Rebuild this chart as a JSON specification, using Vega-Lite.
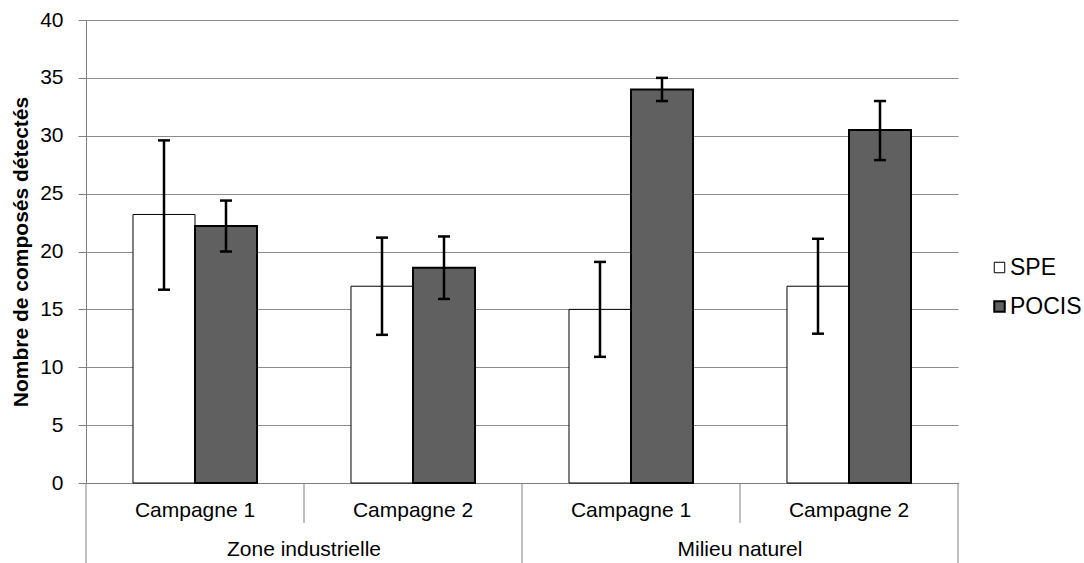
{
  "$schema": "https://vega.github.io/schema/vega-lite/v6.json",
  "width": 872,
  "height": 463,
  "autosize": {"type": "none"},
  "padding": {"left": 86, "top": 20, "right": 126, "bottom": 80},
  "background": "white",
  "config": {
    "view": {"stroke": null},
    "font": "Liberation Sans",
    "axis": {"labelFont": "Liberation Sans", "titleFont": "Liberation Sans", "labelColor": "#000000", "titleColor": "#000000"},
    "legend": {"labelFont": "Liberation Sans"}
  },
  "datasets": {
    "bars": [
      {"region": "Zone industrielle", "cat": "Zone industrielle|Campagne 1", "serie": "SPE", "value": 23.2, "lo": 16.7, "hi": 29.6},
      {"region": "Zone industrielle", "cat": "Zone industrielle|Campagne 1", "serie": "POCIS", "value": 22.2, "lo": 20.0, "hi": 24.4},
      {"region": "Zone industrielle", "cat": "Zone industrielle|Campagne 2", "serie": "SPE", "value": 17.0, "lo": 12.8, "hi": 21.2},
      {"region": "Zone industrielle", "cat": "Zone industrielle|Campagne 2", "serie": "POCIS", "value": 18.6, "lo": 15.9, "hi": 21.3},
      {"region": "Milieu naturel", "cat": "Milieu naturel|Campagne 1", "serie": "SPE", "value": 15.0, "lo": 10.9, "hi": 19.1},
      {"region": "Milieu naturel", "cat": "Milieu naturel|Campagne 1", "serie": "POCIS", "value": 34.0, "lo": 33.0, "hi": 35.0},
      {"region": "Milieu naturel", "cat": "Milieu naturel|Campagne 2", "serie": "SPE", "value": 17.0, "lo": 12.9, "hi": 21.1},
      {"region": "Milieu naturel", "cat": "Milieu naturel|Campagne 2", "serie": "POCIS", "value": 30.5, "lo": 27.9, "hi": 33.0}
    ],
    "regions": [
      {"cat": "Zone industrielle|Campagne 1", "region": "Zone industrielle"},
      {"cat": "Milieu naturel|Campagne 1", "region": "Milieu naturel"}
    ],
    "camp2": [
      {"cat": "Zone industrielle|Campagne 2"},
      {"cat": "Milieu naturel|Campagne 2"}
    ],
    "lastedge": [
      {"cat": "Milieu naturel|Campagne 2"}
    ]
  },
  "layer": [
    {
      "data": {"name": "bars"},
      "mark": {"type": "bar", "stroke": "#000000"},
      "encoding": {
        "x": {
          "field": "cat", "type": "nominal", "sort": null,
          "scale": {"paddingInner": 0, "paddingOuter": 0},
          "axis": {
            "orient": "bottom", "title": null, "labelAngle": 0,
            "labelExpr": "slice(datum.value, indexof(datum.value, '|') + 1)",
            "labelFontSize": 21, "labelBaseline": "middle", "labelPadding": 27,
            "domain": true, "domainColor": "#808080", "domainWidth": 1,
            "ticks": true, "tickSize": 0, "tickOpacity": 0,
            "grid": false
          }
        },
        "xOffset": {
          "field": "serie", "type": "nominal", "sort": ["SPE", "POCIS"],
          "scale": {"paddingInner": 0, "paddingOuter": 0.758}
        },
        "y": {
          "field": "value", "type": "quantitative",
          "scale": {"domain": [0, 40], "nice": false},
          "axis": {
            "title": "Nombre de composés détectés", "titleFontSize": 21, "titleFontWeight": "bold", "titlePadding": 8,
            "values": [0, 5, 10, 15, 20, 25, 30, 35, 40],
            "labelFontSize": 21, "labelPadding": 15,
            "domain": true, "domainColor": "#808080",
            "tickSize": 8, "tickColor": "#808080",
            "grid": true, "gridColor": "#8c8c8c", "gridWidth": 1
          }
        },
        "fill": {
          "field": "serie", "type": "nominal",
          "scale": {"domain": ["SPE", "POCIS"], "range": ["#ffffff", "#606060"]},
          "legend": {
            "title": null, "orient": "none", "legendX": 902, "legendY": 236,
            "labelFontSize": 23, "symbolType": "square", "symbolSize": 110,
            "symbolStrokeColor": "#000000", "symbolStrokeWidth": 1, "labelOffset": -1, "rowPadding": 15
          }
        },
        "strokeWidth": {
          "field": "serie", "type": "nominal",
          "scale": {"domain": ["SPE", "POCIS"], "range": [1, 2]},
          "legend": null
        }
      }
    },
    {
      "data": {"name": "bars"},
      "mark": {"type": "rule", "color": "#000000", "strokeWidth": 2.5},
      "encoding": {
        "x": {"field": "cat", "type": "nominal", "sort": null},
        "xOffset": {"field": "serie", "type": "nominal", "sort": ["SPE", "POCIS"]},
        "y": {"field": "lo", "type": "quantitative"},
        "y2": {"field": "hi"}
      }
    },
    {
      "data": {"name": "bars"},
      "mark": {"type": "point", "shape": "M-1,0L1,0", "size": 144, "filled": false, "stroke": "#000000", "strokeWidth": 2.5, "opacity": 1},
      "encoding": {
        "x": {"field": "cat", "type": "nominal", "sort": null},
        "xOffset": {"field": "serie", "type": "nominal", "sort": ["SPE", "POCIS"]},
        "y": {"field": "lo", "type": "quantitative"}
      }
    },
    {
      "data": {"name": "bars"},
      "mark": {"type": "point", "shape": "M-1,0L1,0", "size": 144, "filled": false, "stroke": "#000000", "strokeWidth": 2.5, "opacity": 1},
      "encoding": {
        "x": {"field": "cat", "type": "nominal", "sort": null},
        "xOffset": {"field": "serie", "type": "nominal", "sort": ["SPE", "POCIS"]},
        "y": {"field": "hi", "type": "quantitative"}
      }
    },
    {
      "data": {"name": "regions"},
      "mark": {"type": "rule", "color": "#808080", "strokeWidth": 1},
      "encoding": {
        "x": {"field": "cat", "type": "nominal", "sort": null, "bandPosition": 0},
        "y": {"datum": 0, "type": "quantitative"},
        "y2": {"datum": -6.95}
      }
    },
    {
      "data": {"name": "lastedge"},
      "mark": {"type": "rule", "color": "#808080", "strokeWidth": 1},
      "encoding": {
        "x": {"field": "cat", "type": "nominal", "sort": null, "bandPosition": 1},
        "y": {"datum": 0, "type": "quantitative"},
        "y2": {"datum": -6.95}
      }
    },
    {
      "data": {"name": "camp2"},
      "mark": {"type": "rule", "color": "#808080", "strokeWidth": 1},
      "encoding": {
        "x": {"field": "cat", "type": "nominal", "sort": null, "bandPosition": 0},
        "y": {"datum": 0, "type": "quantitative"},
        "y2": {"datum": -3.45}
      }
    },
    {
      "data": {"name": "regions"},
      "mark": {"type": "text", "fontSize": 21, "font": "Liberation Sans", "color": "#000000", "baseline": "middle", "align": "center"},
      "encoding": {
        "x": {"field": "cat", "type": "nominal", "sort": null, "bandPosition": 1},
        "y": {"datum": -5.8, "type": "quantitative"},
        "text": {"field": "region"}
      }
    }
  ]
}
